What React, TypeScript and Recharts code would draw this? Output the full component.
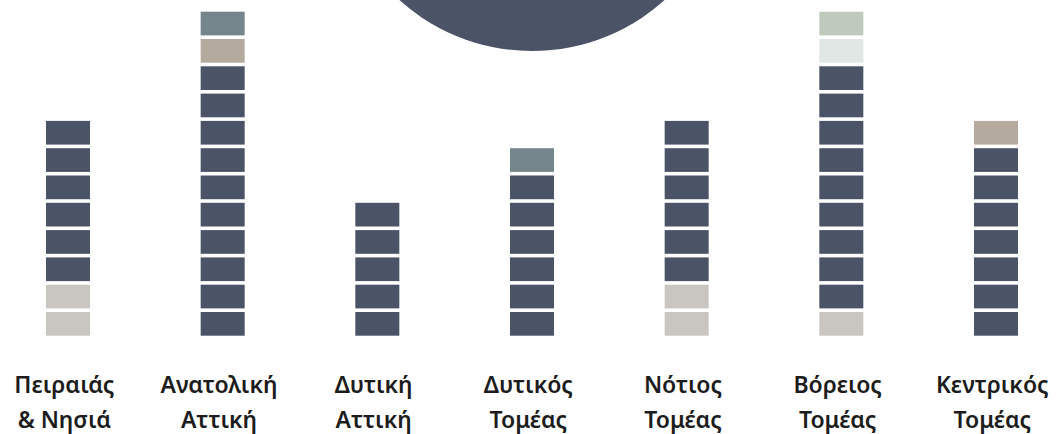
import React from 'react';
import { BarChart, Bar, XAxis, YAxis } from 'recharts';

// sectors (two-line labels split on "|")
const sectors = [
  'Πειραιάς|& Νησιά',
  'Ανατολική|Αττική',
  'Δυτική|Αττική',
  'Δυτικός|Τομέας',
  'Νότιος|Τομέας',
  'Βόρειος|Τομέας',
  'Κεντρικός|Τομέας',
];

// unit counts per colour group, bottom to top of each stack
const greyUnits = [2, 0, 0, 0, 2, 1, 0];
const darkUnits = [6, 10, 5, 6, 6, 9, 7];
const taupeUnits = [0, 1, 0, 0, 0, 0, 1];
const paleUnits = [0, 0, 0, 0, 0, 1, 0];
const slateUnits = [0, 1, 0, 1, 0, 0, 0];
const sageUnits = [0, 0, 0, 0, 0, 1, 0];

const data = sectors.map((name, i) => ({
  name,
  grey: greyUnits[i],
  dark: darkUnits[i],
  taupe: taupeUnits[i],
  pale: paleUnits[i],
  slate: slateUnits[i],
  sage: sageUnits[i],
}));

const series = [
  { key: 'grey', color: '#c9c6c1' },
  { key: 'dark', color: '#4b5366' },
  { key: 'taupe', color: '#b5aa9e' },
  { key: 'pale', color: '#e1e7e5' },
  { key: 'slate', color: '#74868c' },
  { key: 'sage', color: '#bfcabd' },
];

const GAP = 3.6;

// split each stacked segment into separate unit blocks
const makeBlocks = (key: string, color: string) => (props: any) => {
  const { x, y, width, height, payload } = props;
  const n = payload ? payload[key] : 0;
  if (!n || !height) return <g />;
  const pitch = height / n;
  return (
    <g>
      {Array.from({ length: n }, (_, i) => (
        <rect
          key={i}
          x={x}
          y={y + i * pitch + GAP / 2}
          width={width}
          height={pitch - GAP}
          fill={color}
        />
      ))}
    </g>
  );
};

const SectorTick = (props: any) => {
  const { x, y, payload } = props;
  const [l1, l2] = String(payload.value).split('|');
  return (
    <g transform={`translate(${x - 4},${y})`}>
      <text
        textAnchor="middle"
        fill="#1c1c1c"
        fontSize={23}
        fontWeight={600}
        fontFamily='"Noto Sans", sans-serif'
      >
        <tspan x={0} y={56}>{l1}</tspan>
        <tspan x={0} y={90.5}>{l2}</tspan>
      </text>
    </g>
  );
};

const App = () => {
  return (
    <div
      style={{
        position: 'absolute',
        left: 0,
        top: 0,
        width: 1058,
        height: 434,
        overflow: 'hidden',
        background: '#ffffff',
      }}
    >
      <div
        style={{
          position: 'absolute',
          left: 334,
          top: -345.5,
          width: 396,
          height: 396,
          borderRadius: '50%',
          background: '#4b5366',
        }}
      />
      <div style={{ position: 'absolute', left: -9.33, top: 0 }}>
        <BarChart
          width={1082.67}
          height={434}
          data={data}
          margin={{ top: 9.9, right: 0, bottom: 36.5, left: 0 }}
          barSize={44}
        >
          <XAxis
            dataKey="name"
            height={60}
            axisLine={false}
            tickLine={false}
            tickSize={0}
            tickMargin={0}
            interval={0}
            tick={<SectorTick />}
          />
          <YAxis hide domain={[0, 12]} />
          {series.map(s => (
            <Bar
              key={s.key}
              dataKey={s.key}
              stackId="units"
              fill={s.color}
              shape={makeBlocks(s.key, s.color)}
              isAnimationActive={false}
            />
          ))}
        </BarChart>
      </div>
    </div>
  );
};

export default App;
